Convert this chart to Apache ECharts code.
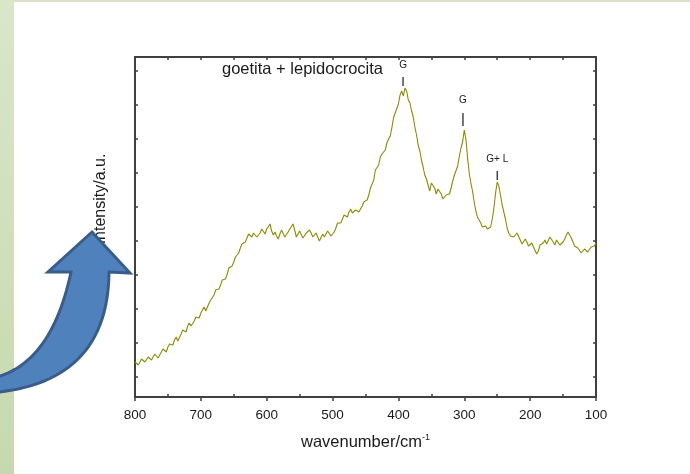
<!DOCTYPE html>
<html>
<head>
<meta charset="utf-8">
<script src="https://cdn.jsdelivr.net/npm/echarts@6/dist/echarts.min.js"></script>
<style>
html,body{margin:0;padding:0;background:#fff;}
#c{width:690px;height:474px;}
</style>
</head>
<body>
<div id="c"></div>
<script>
// Raman shift (cm^-1), main grid
const wavenumbers = [800,795,790,785,780,775,770,765,760,755,750,745,740,735,730,725,720,715,710,705,700,695,690,685,680,675,670,665,660,655,650,645,640,635,630,625,620,615,610,605,600,595,590,585,580,575,570,565,560,555,550,545,540,535,530,525,520,515,510,505,500,495,490,485,480,475,470,465,460,455,450,445,440,435,430,425,420,415,410,405,400,395,390,385,380,375,370,365,360,355,350,345,340,335,330,325,320,315,310,305,300,295,290,285,280,275,270,265,260,255,250,245,240,235,230,225,220,215,210,205,200,195,190,185,180,175,170,165,160,155,150,145,140,135,130,125,120,115,110,105,100];
const intensity = [35,32,38,35,40,37,43,39,45,46,50,51,57,56,63,66,71,71,76,78,84,90,88,97,102,109,112,117,123,131,135,142,149,154,159,162,164,160,164,167,168,173,162,161,163,165,161,168,173,160,166,159,164,167,160,164,156,163,163,165,163,169,175,178,180,185,184,187,185,191,196,202,211,227,232,243,247,258,269,284,293,306,309,297,286,270,252,237,222,212,214,209,208,203,200,202,209,222,231,249,267,239,214,195,180,174,170,168,170,189,215,202,185,169,161,160,164,157,155,155,152,150,143,152,154,153,160,155,157,152,155,162,163,155,150,147,146,149,147,152,154];
// Raman shift (cm^-1), in-between samples
const midWavenumbers = [797.5,792.5,787.5,782.5,777.5,772.5,767.5,762.5,757.5,752.5,747.5,742.5,737.5,732.5,727.5,722.5,717.5,712.5,707.5,702.5,697.5,692.5,687.5,682.5,677.5,672.5,667.5,662.5,657.5,652.5,647.5,642.5,637.5,632.5,627.5,622.5,617.5,612.5,607.5,602.5,597.5,592.5,587.5,582.5,577.5,572.5,567.5,562.5,557.5,552.5,547.5,542.5,537.5,532.5,527.5,522.5,517.5,512.5,507.5,502.5,497.5,492.5,487.5,482.5,477.5,472.5,467.5,462.5,457.5,452.5,447.5,442.5,437.5,432.5,427.5,422.5,417.5,412.5,407.5,402.5,397.5,392.5,387.5,382.5,377.5,372.5,367.5,362.5,357.5,352.5,347.5,342.5,337.5,332.5,327.5,322.5,317.5,312.5,307.5,302.5,297.5,292.5,287.5,282.5,277.5,272.5,267.5,262.5,257.5,252.5,247.5,242.5,237.5,232.5,227.5,222.5,217.5,212.5,207.5,202.5,197.5,192.5,187.5,182.5,177.5,172.5,167.5,162.5,157.5,152.5,147.5,142.5,137.5,132.5,127.5,122.5,117.5,112.5,107.5,102.5];
const midIntensity = [37,33,39,34,42,38,44,40,48,45,53,52,60,57,67,65,74,70,80,79,86,86,94,98,107,108,117,118,129,131,140,144,153,155,163,160,166,159,168,163,170,166,165,158,167,160,165,166,167,162,165,158,162,164,158,162,158,160,166,161,165,174,174,182,180,188,183,189,186,195,197,209,217,225,240,242,254,261,279,286,302,301,306,294,280,262,246,230,218,206,215,203,209,198,202,203,216,224,241,255,258,224,206,186,178,170,171,166,178,204,211,192,178,164,163,158,162,153,158,151,154,148,146,150,157,154,161,152,156,150,158,165,159,151,149,144,148,145,150,151];
const xTickLabels = [800,700,600,500,400,300,200,100];
const xMinorTicks = [750,650,550,450,350,250,150];
const yTickValues = [20,54,88,122,156,190,224,258,292,326];
const peakLabels = ['G','G','G+ L'];
const peakPositions = [393,302,250];

const data = wavenumbers.map((w,i)=>[w,intensity[i]])
  .concat(midWavenumbers.map((w,i)=>[w,midIntensity[i]]))
  .sort((a,b)=>b[0]-a[0]);

const chart = echarts.init(document.getElementById('c'), null, {renderer:'canvas'});
const axisColor = '#404040';
const FONT = '"Liberation Sans", Arial, sans-serif';
const textColor = '#1a1a1a';

const option = {
  animation:false,
  backgroundColor:'#ffffff',
  grid:{left:135,right:94,top:57,bottom:77,containLabel:false},
  xAxis:[
    {type:'value',position:'bottom',inverse:true,min:100,max:800,interval:100,
     axisLine:{show:true,onZero:false,lineStyle:{color:axisColor,width:2}},
     axisTick:{show:true,inside:false,length:4,lineStyle:{color:axisColor,width:1.5}},
     axisLabel:{show:true,margin:11,color:textColor,fontSize:13.5,fontFamily:FONT,
       formatter:v=>xTickLabels.includes(v)?String(v):''},
     splitLine:{show:false},
     name:'{a|wavenumber/cm}{b|-1}',nameLocation:'middle',nameGap:36,
     nameTextStyle:{rich:{a:{fontSize:16.5,color:textColor,fontFamily:FONT},
                          b:{fontSize:9,color:textColor,fontFamily:FONT,padding:[0,0,10,0]}}}
    },
    {type:'value',position:'top',inverse:true,min:100,max:800,interval:50,
     axisLine:{show:true,onZero:false,lineStyle:{color:axisColor,width:2}},
     axisTick:{show:true,inside:true,length:3,lineStyle:{color:axisColor,width:1.5}},
     axisLabel:{show:false},splitLine:{show:false}},
    {type:'value',position:'bottom',inverse:true,min:100,max:800,
     axisLine:{show:false,onZero:false},
     axisTick:{show:true,inside:true,length:3,customValues:xMinorTicks,lineStyle:{color:axisColor,width:1.5}},
     axisLabel:{show:false},splitLine:{show:false}}
  ],
  yAxis:[
    {type:'value',position:'left',min:0,max:340,
     axisLine:{show:true,onZero:false,lineStyle:{color:axisColor,width:2}},
     axisTick:{show:true,inside:true,length:3,customValues:yTickValues,lineStyle:{color:axisColor,width:1.5}},
     axisLabel:{show:false},splitLine:{show:false}},
    {type:'value',position:'right',min:0,max:340,
     axisLine:{show:true,onZero:false,lineStyle:{color:axisColor,width:2}},
     axisTick:{show:true,inside:true,length:3,customValues:yTickValues,lineStyle:{color:axisColor,width:1.5}},
     axisLabel:{show:false},splitLine:{show:false}}
  ],
  series:[{
    type:'line',xAxisIndex:0,yAxisIndex:0,data:data,showSymbol:false,smooth:false,
    lineStyle:{color:'#8c8c00',width:1.1},itemStyle:{color:'#8c8c00'},z:3
  }]
};
chart.setOption(option);

const g = [];
g.push({type:'rect',shape:{x:0,y:0,width:690,height:2},style:{fill:'#d6e3c4'},z:1});
g.push({type:'rect',shape:{x:0,y:0,width:14,height:474},
  style:{fill:{type:'linear',x:0,y:0,x2:0,y2:1,colorStops:[{offset:0,color:'#d9e6c8'},{offset:1,color:'#c6d9ae'}]}},z:1});
g.push({type:'text',x:100.5,y:227,rotation:Math.PI/2,
  style:{text:'Raman Intensity/a.u.',font:'16px '+FONT,fill:textColor,align:'center',verticalAlign:'middle'},z:5});
g.push({type:'text',x:222,y:69,
  style:{text:'goetita + lepidocrocita',font:'16.5px '+FONT,fill:textColor,align:'left',verticalAlign:'middle'},z:5});
// peak labels
const labelGeom = [[65,77,86],[100,113,126],[159,171,180]];
peakLabels.forEach((t,i)=>{
  const px = chart.convertToPixel({xAxisIndex:0},peakPositions[i]);
  const p = labelGeom[i];
  g.push({type:'text',x:px,y:p[0],style:{text:t,font:'10px '+FONT,fill:textColor,align:'center',verticalAlign:'middle'},z:5});
  g.push({type:'line',shape:{x1:px,y1:p[1],x2:px,y2:p[2]},style:{stroke:textColor,lineWidth:1.2},z:5});
});
// curved arrow (decorative shape)
function quad(p0,c,p2,n){
  const pts=[];
  for(let k=0;k<=n;k++){const t=k/n,a=(1-t)*(1-t),b=2*t*(1-t),d=t*t;
    pts.push([a*p0[0]+b*c[0]+d*p2[0], a*p0[1]+b*c[1]+d*p2[1]]);}
  return pts;
}
const outer = quad([109,272],[108,385],[-12,393],30);
const inner = quad([71,272],[50.5,368.5],[-12,379],30).reverse();
const arrowPts = [[92,232],[130,273]].concat(outer).concat(inner).concat([[48,272]]);
g.push({type:'polygon',shape:{points:arrowPts},
  style:{fill:'#4f81bd',stroke:'#385d8a',lineWidth:3,lineJoin:'miter'},z:10});
chart.setOption({graphic:g});
</script>
</body>
</html>
